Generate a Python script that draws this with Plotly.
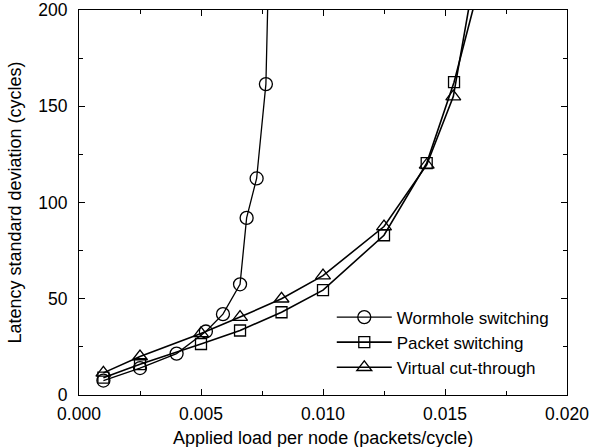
import plotly.graph_objects as go

# Data
wormhole_x = [0.001, 0.0025, 0.004, 0.0052, 0.0059, 0.0066, 0.00687, 0.00728, 0.00766, 0.0078]
wormhole_y = [7.5, 14, 21.5, 33, 42, 57.5, 92, 112.5, 161.5, 238]

packet_x = [0.001, 0.0025, 0.005, 0.0066, 0.0083, 0.010, 0.0125, 0.01425, 0.01537, 0.0165]
packet_y = [9, 16, 26.5, 33.5, 43, 54.5, 83, 120.5, 162.5, 217.5]

vct_x = [0.001, 0.0025, 0.005, 0.0066, 0.0083, 0.010, 0.0125, 0.01425, 0.01534, 0.0165]
vct_y = [11.5, 20, 32, 40.5, 50, 62, 87.5, 119.5, 155, 239]

x_ticks = [0.000, 0.005, 0.010, 0.015, 0.020]
x_tick_labels = ["0.000", "0.005", "0.010", "0.015", "0.020"]
y_ticks = [0, 50, 100, 150, 200]
y_tick_labels = ["0", "50", "100", "150", "200"]

x_title = "Applied load per node (packets/cycle)"
y_title = "Latency standard deviation (cycles)"

FONT = "Liberation Sans, Arial, Helvetica, sans-serif"

fig = go.Figure()
fig.add_trace(go.Scatter(
    x=wormhole_x, y=wormhole_y, mode="lines+markers", name="Wormhole switching",
    line=dict(color="black", width=1.3),
    marker=dict(symbol="circle-open", size=13, color="black", line=dict(width=1.3)),
    cliponaxis=True,
))
fig.add_trace(go.Scatter(
    x=packet_x, y=packet_y, mode="lines+markers", name="Packet switching",
    line=dict(color="black", width=1.6),
    marker=dict(symbol="square-open", size=11, color="black", line=dict(width=1.3)),
    cliponaxis=True,
))
fig.add_trace(go.Scatter(
    x=vct_x, y=vct_y, mode="lines+markers", name="Virtual cut-through",
    line=dict(color="black", width=1.6),
    marker=dict(symbol="triangle-up-open", size=13, color="black", line=dict(width=1.3)),
    cliponaxis=True,
))

axis_common = dict(
    showline=True, linecolor="black", linewidth=1.2, mirror="ticks",
    ticks="inside", ticklen=6, tickwidth=1, tickcolor="black",
    showgrid=False, zeroline=False, automargin=False,
    tickfont=dict(family=FONT, size=17.5, color="black"),
)

fig.update_xaxes(
    range=[0, 0.020], tickvals=x_ticks, ticktext=x_tick_labels,
    ticklabelstandoff=3,
    minor=dict(ticks="inside", ticklen=4, dtick=0.0025, tickcolor="black", showgrid=False),
    **axis_common,
)
fig.update_yaxes(
    range=[0, 200], tickvals=y_ticks, ticktext=y_tick_labels,
    ticklabelstandoff=7,
    minor=dict(ticks="inside", ticklen=4, dtick=25, tickcolor="black", showgrid=False),
    **axis_common,
)

fig.add_annotation(
    text=x_title, xref="paper", yref="paper", x=0.5, y=-0.111,
    xanchor="center", yanchor="middle", showarrow=False,
    font=dict(family=FONT, size=18, color="black"),
)
fig.add_annotation(
    text=y_title, xref="paper", yref="paper", x=-0.133, y=0.5,
    xanchor="center", yanchor="middle", showarrow=False, textangle=-90,
    font=dict(family=FONT, size=18, color="black"),
)

fig.update_layout(
    width=590, height=447,
    margin=dict(l=79, r=23, t=10, b=52),
    paper_bgcolor="white", plot_bgcolor="white",
    font=dict(family=FONT, color="black"),
    showlegend=True,
    legend=dict(
        x=0.518, y=0.248, xanchor="left", yanchor="top",
        bgcolor="rgba(0,0,0,0)", borderwidth=0,
        font=dict(family=FONT, size=17, color="black"),
        itemwidth=55, tracegroupgap=0,
    ),
)

fig.write_html(
    "out.html",
    config={"displayModeBar": False},
    post_script="document.body.style.margin='0';document.body.style.padding='0';document.body.style.overflow='hidden';",
)
